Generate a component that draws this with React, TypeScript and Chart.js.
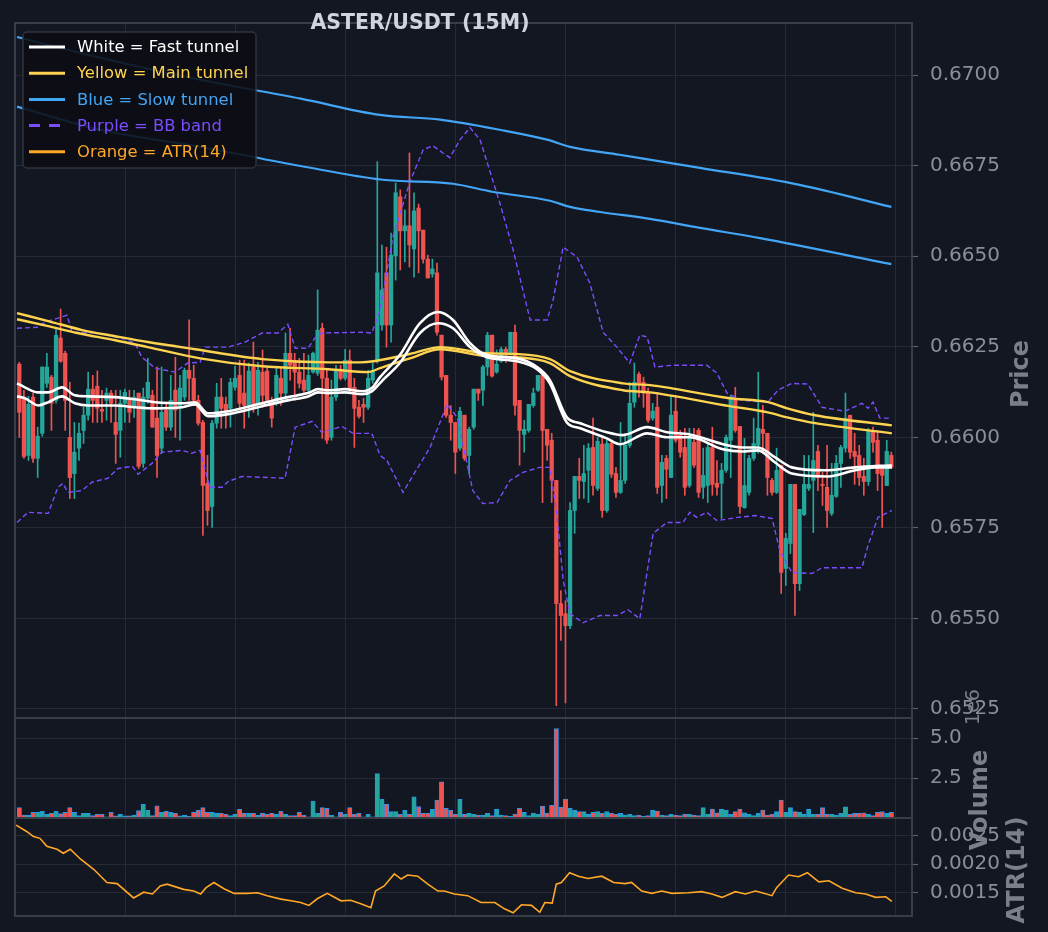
import React, { useEffect, useRef } from 'react';
import Chart from 'chart.js/auto';

const BG = '#131722';
const GRID = '#262a35';
const SPINE = '#393d48';
const TICK_TEXT = '#8b8e98';
const LABEL_TEXT = '#7c7f89';
const UP = '#26a69a';
const DOWN = '#ef5350';

// candles, one per 15m bar (index 0..190)
const candleOpen = [
  .66202,.66111,.65950,.66111,.65942,.66011,.66149,.66166,.66102,.66274,
  .66232,.66000,.65900,.65970,.66019,.66061,.66133,.66141,.66077,.66102,
  .66122,.66041,.66019,.66094,.66108,.66083,.66122,.65928,.66108,.66116,
  .66053,.65970,.66075,.66028,.66130,.66083,.66111,.66185,.66163,.66102,
  .66041,.65873,.65809,.66039,.66111,.66091,.66080,.66138,.66171,.66122,
  .66088,.66194,.66094,.66180,.66183,.66102,.66094,.66163,.66122,.66232,
  .66213,.66180,.66158,.66130,.66180,.66177,.66301,.66163,.66000,.66111,
  .66183,.66163,.66213,.66138,.66083,.66091,.66083,.66158,.66213,.66310,
  .66454,.66310,.66501,.66664,.66570,.66584,.66520,.66633,.66572,.66492,
  .66451,.66454,.66282,.66171,.66061,.66041,.65970,.66061,.65950,.66028,
  .66133,.66130,.66194,.66282,.66180,.66210,.66243,.66232,.66290,.66102,
  .66008,.66019,.66088,.66130,.66171,.66022,.65992,.65881,.65541,.65513,
  .65480,.65798,.65892,.65878,.65909,.65972,.65859,.65981,.65798,.65983,
  .65900,.65848,.65881,.65978,.66097,.66174,.66152,.66124,.66053,.66083,
  .65867,.65942,.65889,.66072,.66006,.65972,.65867,.65986,.66019,.65862,
  .65867,.65972,.65873,.65873,.65909,.65992,.66102,.66030,.65806,.65848,
  .65942,.65978,.66022,.66011,.65881,.65848,.65923,.65638,.65707,.65870,
  .65596,.65787,.65859,.65881,.65961,.65870,.65862,.65790,.65837,.65928,
  .65970,.66061,.65961,.65950,.65892,.65878,.66019,.65992,.65914,.65867,.65950,
];
const candleHigh = [
  .66207,.66130,.66113,.66122,.66028,.66194,.66232,.66171,.66301,.66354,
  .66238,.66152,.66041,.66039,.66083,.66180,.66171,.66183,.66130,.66136,
  .66130,.66130,.66130,.66133,.66130,.66130,.66122,.66136,.66218,.66130,
  .66194,.66194,.66097,.66171,.66221,.66171,.66191,.66324,.66199,.66116,
  .66047,.65950,.66047,.66149,.66163,.66111,.66163,.66196,.66213,.66213,
  .66205,.66263,.66207,.66241,.66191,.66111,.66194,.66191,.66288,.66301,
  .66232,.66218,.66232,.66227,.66235,.66407,.66315,.66185,.66158,.66199,
  .66199,.66243,.66241,.66163,.66102,.66108,.66185,.66205,.66761,.66531,
  .66525,.66564,.66702,.66683,.66628,.66785,.66675,.66644,.66572,.66503,
  .66492,.66481,.66282,.66171,.66088,.66041,.66083,.66061,.66028,.66133,
  .66133,.66199,.66290,.66282,.66241,.66249,.66249,.66290,.66310,.66102,
  .66047,.66091,.66136,.66171,.66171,.66022,.66011,.65881,.65577,.65549,
  .65820,.65892,.65942,.65978,.65983,.66053,.66000,.66000,.65992,.65992,
  .65917,.66041,.66011,.66152,.66205,.66180,.66166,.66136,.66094,.66124,
  .65950,.65950,.66116,.66116,.66019,.66025,.66025,.66025,.66025,.65970,
  .65983,.66028,.65936,.65928,.66006,.66116,.66138,.66030,.65997,.65950,
  .66053,.66180,.66088,.66011,.65887,.65970,.65923,.65735,.65870,.65870,
  .65801,.65950,.65950,.66069,.65978,.65903,.65978,.65928,.65950,.65978,
  .66122,.66061,.66011,.65978,.65942,.66025,.66028,.66019,.65914,.65992,.65959,
];
const candleLow = [
  .66000,.65942,.65936,.65931,.65889,.66003,.66138,.66019,.66094,.66207,
  .66019,.65831,.65831,.65936,.65983,.66047,.66041,.66041,.66041,.66047,
  .66041,.65928,.65945,.66041,.66041,.66055,.65914,.65917,.66094,.66028,
  .65889,.65956,.66019,.66019,.66000,.65992,.66102,.66102,.66088,.66033,
  .65729,.65757,.65751,.66025,.66025,.66025,.66028,.66130,.66080,.66025,
  .66055,.66069,.66061,.66083,.66097,.66028,.66088,.66088,.66111,.66158,
  .66102,.66136,.66122,.66124,.66177,.66171,.65997,.65983,.65992,.66102,
  .66158,.66158,.66124,.65972,.66053,.66041,.66077,.66149,.66205,.66296,
  .66249,.66263,.66434,.66462,.66484,.66470,.66442,.66454,.66481,.66440,
  .66442,.66282,.66158,.66055,.65992,.65900,.65964,.65936,.65900,.66022,
  .66102,.66088,.66171,.66166,.66177,.66207,.66207,.66230,.66061,.65923,
  .65959,.66014,.66083,.66127,.65820,.65936,.65820,.65259,.65439,.65267,
  .65472,.65735,.65831,.65831,.65820,.65840,.65853,.65779,.65793,.65889,
  .65834,.65845,.65873,.65972,.66083,.66111,.66083,.66041,.66047,.65845,
  .65820,.65831,.65889,.65986,.65945,.65840,.65862,.65917,.65834,.65831,
  .65820,.65840,.65840,.65776,.65903,.65889,.66014,.65790,.65804,.65840,
  .65936,.65956,.65956,.65840,.65840,.65845,.65569,.65591,.65679,.65508,
  .65577,.65784,.65853,.65737,.65853,.65812,.65751,.65784,.65834,.65862,
  .65959,.65942,.65870,.65867,.65840,.65867,.65959,.65853,.65751,.65867,.65914,
];
const candleClose = [
  .66069,.65947,.66091,.65942,.66003,.66194,.66194,.66094,.66282,.66210,
  .66102,.65889,.65959,.66011,.66061,.66133,.66102,.66080,.66072,.66122,
  .66094,.66008,.66094,.66124,.66069,.66111,.65920,.66111,.66152,.66028,
  .65950,.66069,.66028,.66102,.66075,.66136,.66185,.66163,.66102,.66039,
  .65867,.65798,.66039,.66111,.66080,.66072,.66152,.66163,.66094,.66088,
  .66183,.66083,.66185,.66116,.66102,.66053,.66171,.66122,.66232,.66199,
  .66180,.66149,.66130,.66171,.66232,.66296,.66163,.65992,.66111,.66183,
  .66163,.66213,.66136,.66080,.66058,.66083,.66163,.66185,.66454,.66407,
  .66310,.66503,.66675,.66570,.66584,.66531,.66625,.66570,.66492,.66440,
  .66465,.66290,.66166,.66061,.66041,.65959,.66072,.65942,.66022,.66133,
  .66122,.66194,.66282,.66169,.66202,.66243,.66232,.66290,.66088,.66019,
  .66022,.66091,.66122,.66171,.66019,.65978,.65881,.65541,.65508,.65480,
  .65798,.65892,.65881,.65900,.65970,.65867,.65989,.65798,.65983,.65898,
  .65848,.65881,.65978,.66094,.66152,.66149,.66122,.66047,.66072,.65862,
  .65931,.65912,.66061,.65992,.65959,.65862,.65997,.65923,.65848,.65895,
  .65972,.65870,.65862,.65909,.66000,.66111,.66019,.65809,.65867,.65942,
  .65983,.66025,.66011,.65889,.65848,.65909,.65627,.65721,.65870,.65596,
  .65801,.65870,.65870,.65936,.65889,.65867,.65798,.65840,.65928,.65972,
  .66053,.65959,.65947,.65889,.65878,.66019,.65986,.65900,.65895,.65961,.65917,
];
// volume, in units of 1e6
const volumeM = [
  0.65,0.19,0.19,0.35,0.35,0.42,0.23,0.29,0.42,0.27,
  0.35,0.65,0.35,0.15,0.29,0.29,0.15,0.23,0.23,0.08,
  0.35,0.13,0.23,0.13,0.13,0.19,0.46,0.85,0.48,0.15,
  0.77,0.35,0.42,0.35,0.29,0.13,0.17,0.10,0.35,0.48,
  0.65,0.35,0.35,0.29,0.29,0.23,0.15,0.23,0.54,0.29,
  0.29,0.29,0.17,0.29,0.23,0.29,0.23,0.42,0.23,0.15,
  0.15,0.35,0.17,0.08,1.06,0.29,0.65,0.60,0.17,0.08,
  0.35,0.23,0.65,0.23,0.29,0.08,0.23,0.08,2.79,1.17,
  0.85,0.40,0.40,0.23,0.48,0.23,1.33,0.71,0.29,0.29,
  0.54,1.13,2.27,0.60,0.48,0.23,1.17,0.23,0.29,0.23,
  0.19,0.19,0.29,0.15,0.56,0.19,0.15,0.10,0.25,0.60,
  0.35,0.15,0.29,0.23,0.75,0.29,0.80,5.60,0.67,1.19,
  0.60,0.50,0.40,0.40,0.25,0.35,0.40,0.29,0.40,0.29,
  0.23,0.29,0.19,0.23,0.15,0.19,0.10,0.15,0.50,0.44,
  0.19,0.15,0.23,0.19,0.15,0.23,0.23,0.19,0.15,0.65,
  0.23,0.56,0.33,0.56,0.50,0.23,0.40,0.56,0.33,0.23,
  0.15,0.29,0.50,0.19,0.23,0.40,1.13,0.35,0.65,0.40,
  0.35,0.23,0.56,0.23,0.23,0.65,0.23,0.23,0.19,0.29,
  0.70,0.23,0.29,0.29,0.33,0.23,0.15,0.35,0.40,0.29,0.35,
];

// indicator lines as [bar index, value]
const fastUpper = [[-0.5,.66149],[1.2,.66138],[4.1,.66124],[6.3,.66124],[9.3,.66138],[12.1,.66116],[15,.66113],[20.9,.66111],[25.2,.66105],[29.6,.66097],[35.5,.66094],[38.3,.66097],[41.1,.66066],[45.5,.66072],[52.9,.66094],[58.5,.66111],[62.9,.66122],[65.1,.66133],[67.3,.66130],[70.9,.66133],[74.7,.66127],[76.8,.66136],[78.6,.66166],[82.9,.66227],[87.3,.66315],[91.2,.66346],[94.5,.66324],[98.2,.66260],[101.9,.66227],[108.4,.66218],[112.8,.66194],[115.6,.66158],[119.3,.66055],[122.2,.66039],[128,.66014],[131.5,.66006],[136.8,.66028],[141.1,.66014],[146.1,.66008],[153.3,.65981],[157.5,.65972],[161,.65972],[164.6,.65945],[168.3,.65917],[175.5,.65909],[182.1,.65917],[190.1,.65923]];
const fastLower = [[-0.5,.66113],[1.2,.66108],[4.1,.66088],[6.3,.66097],[9.3,.66113],[12.1,.66094],[15,.66088],[20.9,.66088],[25.2,.66083],[29.6,.66080],[35.5,.66083],[38.3,.66091],[41.1,.66058],[45.5,.66064],[52.9,.66086],[58.5,.66102],[62.9,.66113],[65.1,.66124],[67.3,.66122],[70.9,.66124],[74.7,.66119],[76.8,.66127],[79.2,.66158],[82.9,.66205],[87.3,.66288],[91.2,.66315],[94.5,.66301],[98.2,.66249],[101.9,.66221],[108.4,.66210],[112.8,.66188],[115.6,.66149],[119.3,.66041],[122.2,.66025],[128,.65997],[130.9,.65981],[136.8,.66011],[141.1,.66000],[146.1,.66000],[153.3,.65967],[157.5,.65961],[161,.65964],[164.6,.65931],[168.3,.65900],[176.2,.65892],[182.1,.65909],[186.4,.65917],[190.1,.65917]];
const mainUpper = [[-0.5,.66343],[6.3,.66321],[13.7,.66296],[20.9,.66279],[28,.66263],[38.3,.66243],[52.9,.66216],[67.3,.66207],[74.2,.66207],[85.1,.66230],[91.7,.66249],[101.9,.66232],[108.4,.66230],[115.6,.66216],[120,.66183],[131.5,.66149],[137.4,.66144],[154.8,.66108],[163.1,.66097],[167.3,.66080],[173.4,.66061],[190.1,.66033]];
const mainLower = [[-0.5,.66326],[6.3,.66307],[12.6,.66288],[20.9,.66268],[28,.66249],[39.4,.66218],[52.9,.66196],[67.3,.66188],[76,.66180],[78.6,.66191],[85.1,.66218],[91.7,.66243],[101.9,.66224],[108.4,.66221],[115.6,.66205],[120,.66169],[131.5,.66130],[137.4,.66124],[154.8,.66086],[163.1,.66069],[167.3,.66055],[173.4,.66039],[190.1,.66011]];
const slowUpper = [[-0.5,.67105],[17.6,.67048],[39.4,.66987],[61.3,.66935],[78.6,.66890],[91.7,.66877],[104.7,.66849],[115.2,.66821],[120,.66802],[130.8,.66780],[148.3,.66744],[170,.66697],[190,.66636]];
const slowLower = [[-0.5,.66913],[17.6,.66849],[39.4,.66802],[61.3,.66749],[79.2,.66711],[94.5,.66700],[103,.66678],[115.6,.66653],[120,.66636],[126.6,.66622],[137.4,.66603],[148.3,.66578],[161.4,.66550],[190,.66478]];
const bbUpper = [[-0.5,.66301],[4.1,.66304],[5.6,.66318],[8.4,.66329],[10.4,.66337],[11.5,.66290],[17.1,.66288],[23,.66271],[25.2,.66260],[26.7,.66221],[29.6,.66191],[33.9,.66180],[36.7,.66205],[39.4,.66207],[40.5,.66249],[45.5,.66249],[49.2,.66263],[52.9,.66288],[56.4,.66288],[58.5,.66312],[60.1,.66246],[62.9,.66246],[64.4,.66274],[65.9,.66288],[74.7,.66290],[76.8,.66288],[78.6,.66351],[81.4,.66553],[85.1,.66705],[88,.66794],[90.1,.66805],[92.3,.66785],[93.8,.66772],[96,.66821],[98.2,.66855],[100.4,.66821],[104.7,.66647],[107.6,.66517],[111.3,.66324],[115,.66324],[116.3,.66379],[118.5,.66525],[121.5,.66498],[124.3,.66426],[127.2,.66290],[130.2,.66249],[133,.66205],[135.2,.66282],[136.8,.66277],[138.5,.66194],[142.4,.66199],[149.8,.66199],[152,.66177],[154.2,.66122],[157.5,.66102],[163.1,.66097],[165.3,.66130],[168.3,.66149],[171.8,.66147],[174.9,.66083],[179.9,.66072],[183.6,.66094],[184.9,.66080],[186,.66097],[187.5,.66053],[190.1,.66053]];
const bbLower = [[-0.5,.65765],[1.9,.65793],[6.3,.65790],[8.4,.65862],[9.5,.65873],[10.6,.65848],[13.7,.65853],[15.8,.65876],[19.3,.65887],[21.5,.65914],[24.6,.65920],[25.9,.65898],[28.9,.65928],[31.1,.65959],[35.4,.65964],[37.6,.65956],[39.4,.65964],[41.5,.65862],[44.2,.65862],[45.5,.65878],[48.5,.65892],[57.9,.65887],[60.1,.66028],[63.8,.66044],[65.9,.66014],[70.3,.66030],[72.7,.66011],[76.8,.66011],[78.6,.65950],[80.1,.65936],[83.6,.65848],[85.8,.65895],[89.5,.65972],[93.2,.66091],[95.4,.66055],[98.8,.65853],[101,.65817],[104.1,.65820],[106.9,.65881],[109.7,.65903],[113.4,.65917],[115.6,.65917],[117.1,.65790],[118.5,.65605],[120,.65513],[122.8,.65488],[126.5,.65508],[130.2,.65508],[132.6,.65524],[135.2,.65499],[138.1,.65735],[141.1,.65765],[144.6,.65765],[146.1,.65793],[147.6,.65779],[149.8,.65793],[152,.65770],[156.6,.65779],[160.3,.65784],[164,.65776],[165.7,.65688],[168.3,.65627],[172.7,.65624],[174.9,.65640],[183.6,.65640],[184.9,.65701],[187.1,.65779],[190.1,.65798]];
const atr14 = [[-0.7,.00268],[1.6,.00257],[3.1,.00248],[4.5,.00245],[6,.00231],[8.2,.00226],[9.6,.00219],[11.1,.00226],[13.3,.00209],[16.2,.00191],[19.1,.00168],[21.3,.00166],[24.9,.00141],[27.1,.00151],[29,.00148],[30.7,.00162],[32.2,.00165],[35.8,.00156],[38,.00153],[39.5,.00148],[40.7,.00159],[42.4,.00168],[44.6,.00157],[46.8,.00149],[49.7,.00149],[51.9,.00150],[54,.00145],[57,.00139],[59.2,.00136],[61.3,.00133],[63.1,.00128],[65,.00140],[67.1,.00149],[70.1,.00136],[72.2,.00137],[74.4,.00131],[76.6,.00124],[77.6,.00153],[79.5,.00162],[81.7,.00183],[83.2,.00174],[84.6,.00181],[86.8,.00179],[89,.00165],[91.2,.00153],[92.6,.00153],[94.8,.00148],[97.7,.00145],[100.6,.00133],[103.6,.00133],[105.7,.00122],[107.6,.00115],[109.4,.00129],[111.6,.00128],[113.4,.00116],[114.5,.00133],[116.1,.00132],[117,.00165],[118.1,.00168],[119.9,.00185],[121.8,.00179],[123.9,.00175],[126.9,.00179],[129.5,.00168],[132,.00166],[133.4,.00168],[135.6,.00153],[137.8,.00149],[140,.00153],[142.2,.00149],[145.8,.00150],[148.7,.00152],[150.9,.00148],[153.1,.00142],[156,.00152],[158.2,.00148],[160.4,.00153],[161.8,.00150],[164,.00145],[165,.00159],[167.6,.00181],[169.8,.00178],[171.7,.00185],[174.2,.00169],[176.4,.00171],[179.3,.00158],[182.2,.00150],[184.4,.00148],[186.6,.00142],[188.8,.00143],[190.1,.00135]];

const priceTicks = [0.6525, 0.655, 0.6575, 0.66, 0.6625, 0.665, 0.6675, 0.67];
const volumeTicks = [2.5, 5.0];
const atrTicks = [0.0015, 0.002, 0.0025];
const timeGrid = [23.1, 47.1, 71.0, 95.0, 119.0, 143.0, 167.0, 191.0];

const chartTitle = 'ASTER/USDT (15M)';
const legendItems = [
  { text: 'White = Fast tunnel', color: '#ffffff', dash: false },
  { text: 'Yellow = Main tunnel', color: '#fdd34f', dash: false },
  { text: 'Blue = Slow tunnel', color: '#42a5f5', dash: false },
  { text: 'Purple = BB band', color: '#7c4dff', dash: true },
  { text: 'Orange = ATR(14)', color: '#ffa726', dash: false },
];

const pts = (arr) => arr.map(([x, y]) => ({ x, y }));

const overlay = {
  id: 'overlay',
  afterDraw(chart) {
    const { ctx, chartArea, scales } = chart;
    ctx.save();
    // panel frames
    ctx.strokeStyle = SPINE;
    ctx.lineWidth = 2;
    ['yPrice', 'yVol', 'yAtr'].forEach((id) => {
      const s = scales[id];
      ctx.strokeRect(chartArea.left, s.top, chartArea.right - chartArea.left, s.bottom - s.top);
    });

    // title
    ctx.fillStyle = '#d1d4dc';
    ctx.font = 'bold 20.5px "DejaVu Sans"';
    ctx.textAlign = 'center';
    ctx.textBaseline = 'middle';
    ctx.fillText(chartTitle, 420, 24);

    // rotated axis labels
    const vText = (text, x, y, font) => {
      ctx.save();
      ctx.translate(x, y);
      ctx.rotate(-Math.PI / 2);
      ctx.font = font;
      ctx.fillStyle = LABEL_TEXT;
      ctx.fillText(text, 0, 0);
      ctx.restore();
    };
    vText('Price', 1022, 374, 'bold 24px "DejaVu Sans"');
    vText('1e6', 974, 707, '19px "DejaVu Sans"');
    vText('Volume', 981, 800, 'bold 24px "DejaVu Sans"');
    vText('ATR(14)', 1018, 870, 'bold 24px "DejaVu Sans"');

    // legend box
    const bx = 23, by = 32, bw = 233, bh = 136;
    ctx.beginPath();
    ctx.roundRect(bx, by, bw, bh, 4);
    ctx.fillStyle = 'rgba(11, 13, 19, 0.88)';
    ctx.fill();
    ctx.strokeStyle = '#30343f';
    ctx.lineWidth = 1.5;
    ctx.stroke();
    ctx.font = '16.4px "DejaVu Sans"';
    ctx.textAlign = 'left';
    legendItems.forEach((item, k) => {
      const y = 47 + k * 26.2;
      ctx.strokeStyle = item.color;
      ctx.lineWidth = 3;
      ctx.setLineDash(item.dash ? [11, 9] : []);
      ctx.beginPath();
      ctx.moveTo(29, y);
      ctx.lineTo(65, y);
      ctx.stroke();
      ctx.setLineDash([]);
      ctx.fillStyle = item.color;
      ctx.fillText(item.text, 77, y + 1);
    });
    ctx.restore();
  },
};

const App = () => {
  const canvasRef = useRef(null);

  useEffect(() => {
    const colors = candleOpen.map((o, i) => (candleClose[i] >= o ? UP : DOWN));
    const tickFont = { family: 'DejaVu Sans', size: 20 };
    const yBase = (weight, ticks, digits) => ({
      type: 'linear',
      position: 'right',
      stack: 'panels',
      stackWeight: weight,
      grid: { color: GRID, lineWidth: 1, tickLength: 6, tickColor: '#5e616b', tickWidth: 1.2 },
      border: { display: false },
      ticks: {
        color: TICK_TEXT,
        font: tickFont,
        padding: 12,
        autoSkip: false,
        callback: (v) => Number(v).toFixed(digits),
      },
      afterBuildTicks: (s) => { s.ticks = ticks.map((v) => ({ value: v })); },
      afterFit: (s) => {
        s.width = 136;
        s.paddingTop = 0;
        s.paddingBottom = 0;
      },
    });

    const chart = new Chart(canvasRef.current.getContext('2d'), {
      type: 'bar',
      data: {
        datasets: [
          {
            type: 'line', label: 'ATR', yAxisID: 'yAtr', order: 2,
            data: pts(atr14), borderColor: '#ffa726', borderWidth: 1.6, pointRadius: 0,
          },
          {
            type: 'line', label: 'fastU', yAxisID: 'yPrice', order: 3,
            data: pts(fastUpper), borderColor: '#ffffff', borderWidth: 2.6, pointRadius: 0, cubicInterpolationMode: 'monotone',
          },
          {
            type: 'line', label: 'fastL', yAxisID: 'yPrice', order: 3,
            data: pts(fastLower), borderColor: '#ffffff', borderWidth: 2.6, pointRadius: 0, cubicInterpolationMode: 'monotone',
          },
          {
            type: 'line', label: 'mainU', yAxisID: 'yPrice', order: 4,
            data: pts(mainUpper), borderColor: '#fdd34f', borderWidth: 2.4, pointRadius: 0, cubicInterpolationMode: 'monotone',
          },
          {
            type: 'line', label: 'mainL', yAxisID: 'yPrice', order: 4,
            data: pts(mainLower), borderColor: '#fdd34f', borderWidth: 2.4, pointRadius: 0, cubicInterpolationMode: 'monotone',
          },
          {
            type: 'line', label: 'slowU', yAxisID: 'yPrice', order: 5,
            data: pts(slowUpper), borderColor: '#42a5f5', borderWidth: 2.2, pointRadius: 0, cubicInterpolationMode: 'monotone',
          },
          {
            type: 'line', label: 'slowL', yAxisID: 'yPrice', order: 5,
            data: pts(slowLower), borderColor: '#42a5f5', borderWidth: 2.2, pointRadius: 0, cubicInterpolationMode: 'monotone',
          },
          {
            type: 'line', label: 'bbU', yAxisID: 'yPrice', order: 6,
            data: pts(bbUpper), borderColor: '#7c4dff', borderWidth: 1.4, borderDash: [5, 3], pointRadius: 0,
          },
          {
            type: 'line', label: 'bbL', yAxisID: 'yPrice', order: 6,
            data: pts(bbLower), borderColor: '#7c4dff', borderWidth: 1.4, borderDash: [5, 3], pointRadius: 0,
          },
          {
            label: 'volume', yAxisID: 'yVol', order: 28, grouped: false,
            data: volumeM.map((v, i) => ({ x: i, y: v })),
            backgroundColor: colors, borderColor: '#2196f3', borderWidth: 0.8, barThickness: 4.4,
          },
          {
            label: 'body', yAxisID: 'yPrice', order: 29, grouped: false,
            data: candleOpen.map((o, i) => ({ x: i, y: [o, candleClose[i]] })),
            backgroundColor: colors, barThickness: 3.6,
          },
          {
            label: 'wick', yAxisID: 'yPrice', order: 30, grouped: false,
            data: candleLow.map((l, i) => ({ x: i, y: [l, candleHigh[i]] })),
            backgroundColor: colors, barThickness: 1,
          },
        ],
      },
      options: {
        animation: false,
        responsive: false,
        events: [],
        layout: { padding: { left: 15, top: 23, right: 0, bottom: 16 } },
        plugins: { legend: { display: false }, tooltip: { enabled: false } },
        scales: {
          x: {
            type: 'linear',
            min: -0.94,
            max: 194.5,
            offset: false,
            grid: { color: GRID, drawTicks: false, offset: false },
            border: { display: false },
            ticks: { display: false },
            afterBuildTicks: (s) => { s.ticks = timeGrid.map((v) => ({ value: v })); },
            afterFit: (s) => { s.height = 0; },
          },
          yPrice: { ...yBase(695, priceTicks, 4), min: 0.652251, max: 0.671438 },
          yVol: { ...yBase(100, volumeTicks, 1), min: 0, max: 6.27 },
          yAtr: { ...yBase(98, atrTicks, 4), min: 0.001095, max: 0.002805 },
        },
      },
      plugins: [overlay],
    });

    return () => chart.destroy();
  }, []);

  return (
    <div style={{ position: 'absolute', left: 0, top: 0, width: 1048, height: 932, background: BG }}>
      <canvas ref={canvasRef} width={1048} height={932} style={{ display: 'block' }} />
    </div>
  );
};

export default App;
